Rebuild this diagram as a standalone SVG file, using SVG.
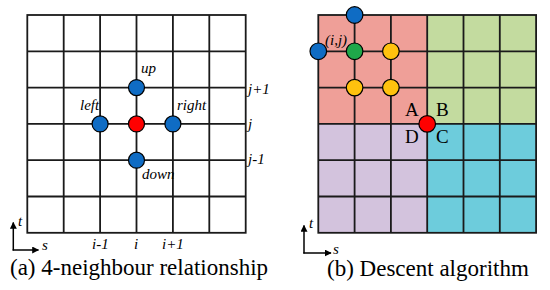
<svg xmlns="http://www.w3.org/2000/svg" width="550" height="290" viewBox="0 0 550 290">
<style>
.g{stroke:#1a1a1a;stroke-width:1.8;fill:none}
.ax{stroke:#000;stroke-width:1.5;fill:none}
.lb{font-style:italic;font-size:15px;fill:#000}
.cap{font-size:23px;fill:#000}
.abc{font-size:19px;fill:#000}
.n{stroke:#000;stroke-width:1.2}
.blue{fill:#0F6CC4}.red{fill:#FF0000}.grn{fill:#1FA84A}.yel{fill:#FFC20E}
</style>
<defs>
<marker id="ah" viewBox="0 0 10 10" refX="9" refY="5" markerWidth="7" markerHeight="7" markerUnits="userSpaceOnUse" orient="auto"><path d="M0,0 L10,5 L0,10 z" fill="#000"/></marker>
</defs>
<g font-family="'Liberation Serif','Times New Roman','DejaVu Serif',serif">
<!-- Left figure grid -->
<g id="gridA">
<rect x="27.3" y="15" width="218.4" height="217.8" class="g"/>
<path class="g" d="M63.7,15V232.8M100.1,15V232.8M136.5,15V232.8M172.9,15V232.8M209.3,15V232.8M27.3,51.3H245.7M27.3,87.6H245.7M27.3,123.9H245.7M27.3,160.2H245.7M27.3,196.5H245.7"/>
</g>
<g id="center"><circle cx="136.5" cy="123.9" r="8" class="n red"/></g>
<g id="up"><circle cx="136.5" cy="87.6" r="8" class="n blue"/><text x="141" y="73" class="lb">up</text></g>
<g id="left"><circle cx="100.1" cy="123.9" r="8" class="n blue"/><text x="80" y="110" class="lb">left</text></g>
<g id="right"><circle cx="172.9" cy="123.9" r="8" class="n blue"/><text x="177" y="110" class="lb">right</text></g>
<g id="down"><circle cx="136.5" cy="160.2" r="8" class="n blue"/><text x="142" y="179" class="lb">down</text></g>
<g id="labelsA">
<text x="248" y="94" class="lb">j+1</text>
<text x="248" y="129" class="lb">j</text>
<text x="248" y="164" class="lb">j-1</text>
<text x="92" y="249" class="lb">i-1</text>
<text x="134" y="249" class="lb">i</text>
<text x="162" y="249" class="lb">i+1</text>
<text x="18" y="226" class="lb">t</text>
<text x="42" y="250" class="lb">s</text>
</g>
<g id="axesA">
<path class="ax" d="M13.3,250.5V222.5" marker-end="url(#ah)"/>
<path class="ax" d="M12.6,250H38.5" marker-end="url(#ah)"/>
</g>
<text x="10" y="275" class="cap">(a) 4-neighbour relationship</text>

<!-- Right figure -->
<g id="quadrants">
<rect x="318.3" y="15" width="108.9" height="108.9" fill="#EF9F98"/>
<rect x="427.2" y="15" width="108.9" height="108.9" fill="#C3DB9F"/>
<rect x="318.3" y="123.9" width="108.9" height="108.9" fill="#D3C3DD"/>
<rect x="427.2" y="123.9" width="108.9" height="108.9" fill="#6DCCDC"/>
</g>
<g id="gridB">
<rect x="318.3" y="15" width="217.8" height="217.8" class="g"/>
<path class="g" d="M354.6,15V232.8M390.9,15V232.8M427.2,15V232.8M463.5,15V232.8M499.8,15V232.8M318.3,51.3H536.1M318.3,87.6H536.1M318.3,123.9H536.1M318.3,160.2H536.1M318.3,196.5H536.1"/>
</g>
<g id="top"><circle cx="354.6" cy="15" r="8.3" class="n blue"/></g>
<g id="west"><circle cx="318.3" cy="51.3" r="8.3" class="n blue"/></g>
<g id="ij"><circle cx="354.6" cy="51.3" r="8.3" class="n grn"/><text x="325" y="45" class="lb">(i,j)</text></g>
<g id="y1"><circle cx="390.9" cy="51.3" r="8.3" class="n yel"/></g>
<g id="y2"><circle cx="354.6" cy="87.6" r="8.3" class="n yel"/></g>
<g id="y3"><circle cx="390.9" cy="87.6" r="8.3" class="n yel"/></g>
<g id="corner"><circle cx="427.2" cy="123.9" r="8.3" class="n red"/>
<text x="405" y="116" class="abc">A</text>
<text x="436" y="116" class="abc">B</text>
<text x="405" y="143" class="abc">D</text>
<text x="436" y="143" class="abc">C</text>
</g>
<g id="axesB">
<path class="ax" d="M304,253.5V225.5" marker-end="url(#ah)"/>
<path class="ax" d="M303.3,253H331" marker-end="url(#ah)"/>
<text x="309" y="228" class="lb">t</text>
<text x="333" y="254" class="lb">s</text>
</g>
<text x="327" y="276" class="cap">(b) Descent algorithm</text>
</g>
</svg>
